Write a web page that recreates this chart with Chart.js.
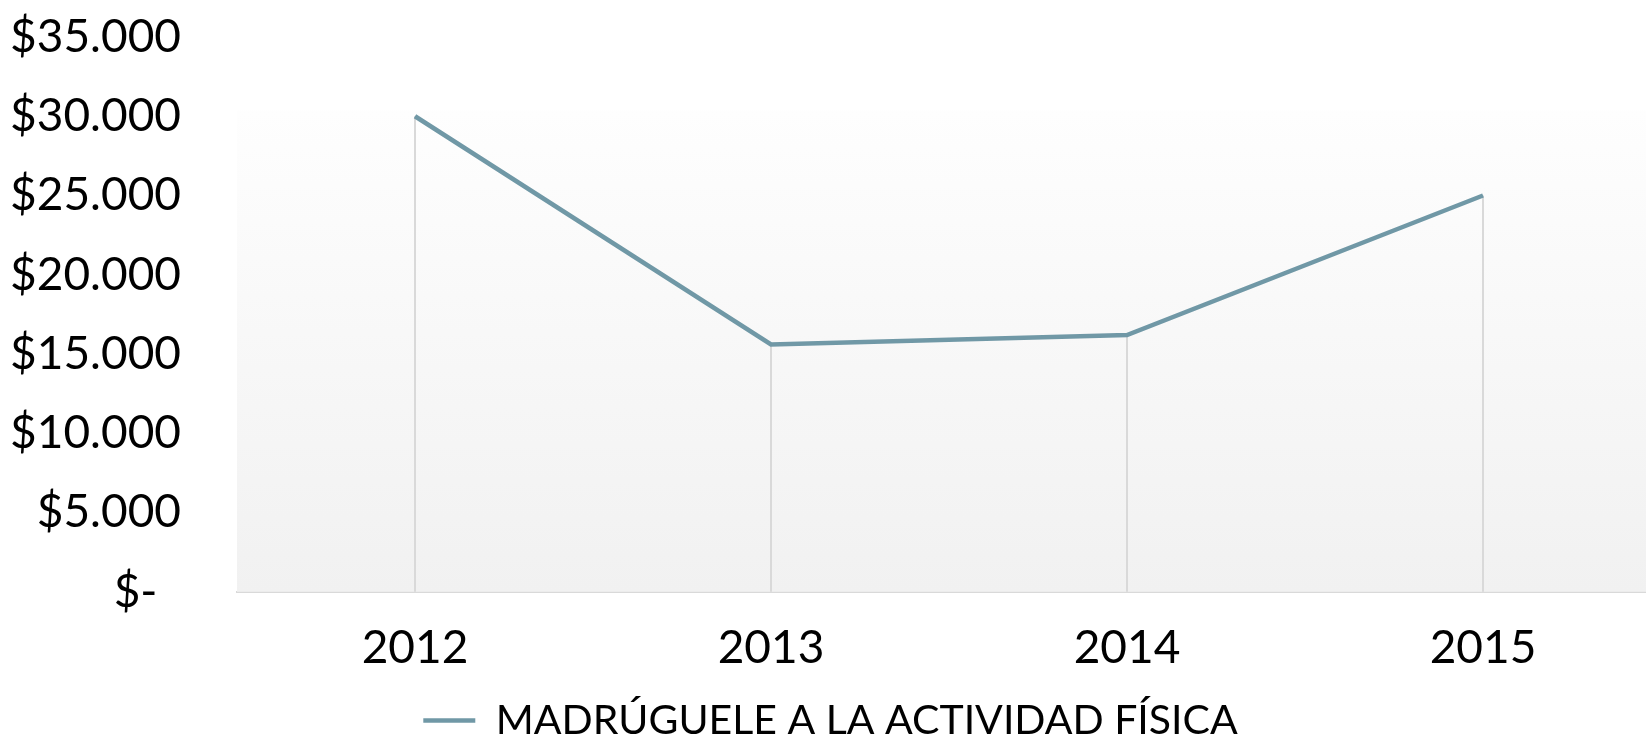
<!DOCTYPE html>
<html>
<head>
<meta charset="utf-8">
<script src="https://cdn.jsdelivr.net/npm/chart.js@4/dist/chart.umd.min.js"></script>
<style>
  html, body { margin: 0; padding: 0; background: #ffffff; overflow: hidden; }
  #wrap { position: relative; width: 1680px; height: 739px; }
</style>
</head>
<body>
<div id="wrap"><canvas id="c"></canvas></div>
<script>
const categories = ['2012', '2013', '2014', '2015'];
const seriesName = 'MADRÚGUELE A LA ACTIVIDAD FÍSICA';
const values = [30000, 15600, 16200, 25000];
const yTickValues = [0, 5000, 10000, 15000, 20000, 25000, 30000, 35000];
const yTickLabels = ['$-\u00a0\u00a0', '$5.000', '$10.000', '$15.000', '$20.000', '$25.000', '$30.000', '$35.000'];

const LINE_COLOR = '#7098a6';
const FONT = 'Lato, "Open Sans", sans-serif';

const backdropPlugin = {
  id: 'backdrop',
  beforeDatasetsDraw(chart) {
    const { ctx, chartArea, scales } = chart;
    const topY = scales.y.getPixelForValue(Math.max(...values)) - 6;
    const g = ctx.createLinearGradient(0, topY, 0, chartArea.bottom);
    g.addColorStop(0, '#fefefe');
    g.addColorStop(1, '#f1f1f1');
    ctx.save();
    ctx.fillStyle = g;
    ctx.fillRect(chartArea.left, topY, chartArea.right - chartArea.left, chartArea.bottom - topY);
    // drop lines
    const meta = chart.getDatasetMeta(0);
    ctx.strokeStyle = '#d9d9d9';
    ctx.lineWidth = 2;
    meta.data.forEach(pt => {
      ctx.beginPath();
      ctx.moveTo(pt.x, pt.y);
      ctx.lineTo(pt.x, chartArea.bottom);
      ctx.stroke();
    });
    ctx.restore();
  }
};

new Chart(document.getElementById('c'), {
  type: 'line',
  data: {
    labels: categories,
    datasets: [{
      label: seriesName,
      data: values,
      borderColor: LINE_COLOR,
      backgroundColor: LINE_COLOR,
      borderWidth: 4.5,
      pointRadius: 0,
      tension: 0,
      fill: false
    }]
  },
  options: {
    responsive: true,
    maintainAspectRatio: false,
    animation: false,
    layout: { padding: { top: 37, right: 19, bottom: -12, left: 0 } },
    plugins: {
      tooltip: { enabled: false },
      legend: {
        position: 'bottom',
        labels: {
          color: '#000000',
          font: { family: FONT, size: 41 },
          usePointStyle: true,
          pointStyle: 'line',
          pointStyleWidth: 52,
          padding: 6
        }
      }
    },
    scales: {
      x: {
        type: 'category',
        offset: true,
        afterFit(scale) { scale.height = scale.height - 11; },
        grid: { display: false, drawTicks: false },
        border: { display: true, color: '#d9d9d9', width: 2 },
        ticks: {
          color: '#000000',
          font: { family: FONT, size: 46 },
          padding: 29,
          maxRotation: 0
        }
      },
      y: {
        min: 0,
        max: 35000,
        afterFit(scale) {
          scale.width = 237;
          scale.paddingTop = 0;
          scale.paddingBottom = 0;
        },
        afterBuildTicks(scale) { scale.ticks = yTickValues.map(v => ({ value: v })); },
        grid: { display: false, drawTicks: false },
        border: { display: false },
        ticks: {
          color: '#000000',
          font: { family: FONT, size: 46 },
          padding: 56,
          callback(value) {
            const i = yTickValues.indexOf(value);
            return i >= 0 ? yTickLabels[i] : '';
          }
        }
      }
    }
  },
  plugins: [backdropPlugin]
});
</script>
</body>
</html>
